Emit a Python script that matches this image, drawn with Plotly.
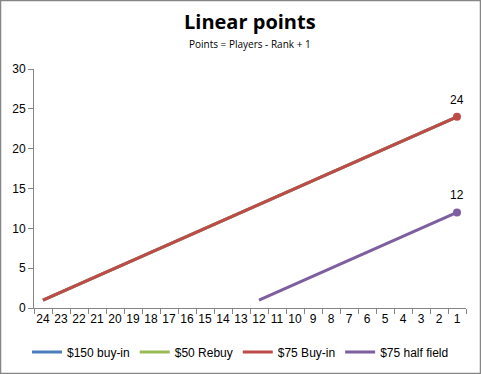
import plotly.graph_objects as go

ranks = [str(r) for r in range(24, 0, -1)]
points_full = [1, 2, 3, 4, 5, 6, 7, 8, 9, 10, 11, 12, 13, 14, 15, 16, 17, 18, 19, 20, 21, 22, 23, 24]
ranks_half = [str(r) for r in range(12, 0, -1)]
points_half = [1, 2, 3, 4, 5, 6, 7, 8, 9, 10, 11, 12]

series = [
    ("$150 buy-in", ranks, points_full, "#4A7EBB"),
    ("$50 Rebuy", ranks, points_full, "#98B954"),
    ("$75 Buy-in", ranks, points_full, "#BE4B48"),
    ("$75 half field", ranks_half, points_half, "#7D5FA0"),
]

fig = go.Figure()
for name, xs, ys, col in series:
    fig.add_trace(go.Scatter(
        x=xs, y=ys, name=name, mode="lines",
        line=dict(color=col, width=3),
    ))

annotations = [
    dict(text="<b>Linear points</b>", xref="paper", yref="paper",
         x=0.5, y=1 + 47/239, xanchor="center", yanchor="middle", showarrow=False,
         font=dict(family="Open Sans", size=20, color="black")),
    dict(text="Points = Players - Rank + 1", xref="paper", yref="paper",
         x=0.5, y=1 + 25/239, xanchor="center", yanchor="middle", showarrow=False,
         font=dict(family="Open Sans", size=10, color="black")),
]

# end-point markers with data labels (visible series only)
for name, xs, ys, col in series[2:]:
    fig.add_trace(go.Scatter(
        x=[xs[-1]], y=[ys[-1]], mode="markers", showlegend=False,
        marker=dict(size=8, color=col), cliponaxis=False,
    ))
    annotations.append(dict(
        x=ranks.index(xs[-1]), y=ys[-1], text=str(ys[-1]), showarrow=False,
        yshift=17, xanchor="center", yanchor="middle",
        font=dict(family="Liberation Sans", size=12, color="black"),
    ))

fig.update_layout(
    width=481, height=374,
    margin=dict(l=34, r=15, t=69, b=66, autoexpand=False),
    paper_bgcolor="white", plot_bgcolor="white",
    font=dict(family="Liberation Sans", size=12, color="black"),
    showlegend=True,
    legend=dict(orientation="h", xref="container", yref="container",
                x=0.5, xanchor="center", y=22/374, yanchor="middle",
                font=dict(family="Liberation Sans", size=12), itemwidth=30,
                tracegroupgap=0),
    xaxis=dict(type="category", categoryorder="array", categoryarray=ranks,
               range=[-0.5, 23.5], showline=True, linecolor="#868686", linewidth=1,
               ticks="outside", ticklen=5, tickcolor="#868686", tickson="boundaries",
               tickangle=0, tickfont=dict(size=12), automargin=False,
               showgrid=False, zeroline=False),
    yaxis=dict(range=[0, 30], dtick=5, showline=True, linecolor="#868686", linewidth=1,
               ticks="outside", ticklen=5, tickcolor="#868686", automargin=False,
               tickfont=dict(size=12), showgrid=False, zeroline=False),
    annotations=annotations,
)

fig.add_shape(type="rect", xref="paper", yref="paper",
              x0=-33.5/432, x1=1 + 14.5/432, y0=-65.5/239, y1=1 + 68.5/239,
              line=dict(color="#868686", width=1.5), fillcolor="rgba(0,0,0,0)")

fig.write_html("out.html", config={"displayModeBar": False},
               post_script="document.body.style.margin='0';")
